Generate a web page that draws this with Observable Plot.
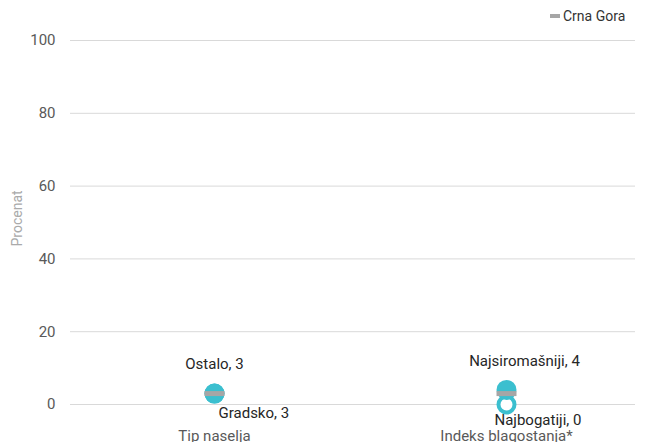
<!DOCTYPE html>
<html>
<head>
<meta charset="utf-8">
<script src="https://cdn.jsdelivr.net/npm/d3@7"></script>
<script src="https://cdn.jsdelivr.net/npm/@observablehq/plot@0.6"></script>
<style>
  body { margin: 0; background: #fff; font-family: Roboto, "Liberation Sans", sans-serif; }
  #legend { height: 26px; position: relative; font-size: 14px; color: #333; }
  #legend .item { position: absolute; left: 550px; top: 8px; display: flex; align-items: center; }
  #legend .sw { width: 10px; height: 4px; background: #a6a6a6; margin-right: 3px; }
</style>
</head>
<body>
<div id="legend"><div class="item"><span class="sw"></span><span>Crna Gora</span></div></div>
<div id="chart"></div>
<script>
const categories = ["Tip naselja", "Indeks blagostanja*"];
const lowGroups = ["Gradsko", "Najbogatiji"];
const lowValues = [3, 0];
const highGroups = ["Ostalo", "Najsiromašniji"];
const highValues = [3, 4];
const nationalValues = [3, 3];
const yTicks = [0, 20, 40, 60, 80, 100];

const low = categories.map((c, i) => ({cat: c, group: lowGroups[i], value: lowValues[i]}));
const high = categories.map((c, i) => ({cat: c, group: highGroups[i], value: highValues[i]}));
const national = categories.map((c, i) => ({cat: c, value: nationalValues[i]}));

const dash = {draw(ctx, size) { ctx.moveTo(-10, 0); ctx.lineTo(10, 0); }};
const teal = "#3bbfcf";
const lab = d => `${d.group}, ${d.value}`;

const chart = Plot.plot({
  width: 649,
  height: 416,
  marginLeft: 70,
  marginRight: 14,
  marginTop: 14,
  marginBottom: 38,
  style: {fontFamily: "Roboto, 'Liberation Sans', sans-serif", fontSize: "15px", color: "#595959", background: "#fff"},
  x: {type: "point", domain: categories, padding: 0.5, insetLeft: -2, insetRight: -17, label: null},
  y: {domain: [0, 100], label: null},
  marks: [
    Plot.ruleY(yTicks, {stroke: "#d9d9d9", strokeWidth: 1}),
    Plot.axisY({ticks: yTicks, tickSize: 0, tickPadding: 15, label: null, fill: "#595959"}),
    Plot.axisX({tickSize: 0, tickPadding: 26, label: null, fill: "#595959"}),
    Plot.text(["Procenat"], {frameAnchor: "left", rotate: -90, dx: -53, dy: 24, fill: "#aaaaaa", fontSize: 14}),
    Plot.dot(low, {x: "cat", y: "value", r: 8, fill: "#fff", stroke: teal, strokeWidth: 4}),
    Plot.dot(high, {x: "cat", y: "value", r: 10, fill: teal}),
    Plot.dot(national, {x: "cat", y: "value", symbol: dash, r: 10, stroke: "#a6a6a6", strokeWidth: 5}),
    Plot.text([high[0]], {x: "cat", y: "value", text: lab, dy: -29, fill: "#262626", fontSize: 15, textAnchor: "middle"}),
    Plot.text([high[1]], {x: "cat", y: "value", text: lab, dy: -29, dx: 18, fill: "#262626", fontSize: 15, textAnchor: "middle"}),
    Plot.text([low[0]], {x: "cat", y: "value", text: lab, dy: 20, dx: 4, fill: "#262626", fontSize: 15, textAnchor: "start"}),
    Plot.text([low[1]], {x: "cat", y: "value", text: lab, dy: 16, dx: -12, fill: "#262626", fontSize: 15, textAnchor: "start"})
  ]
});
document.getElementById("chart").appendChild(chart);
</script>
</body>
</html>
